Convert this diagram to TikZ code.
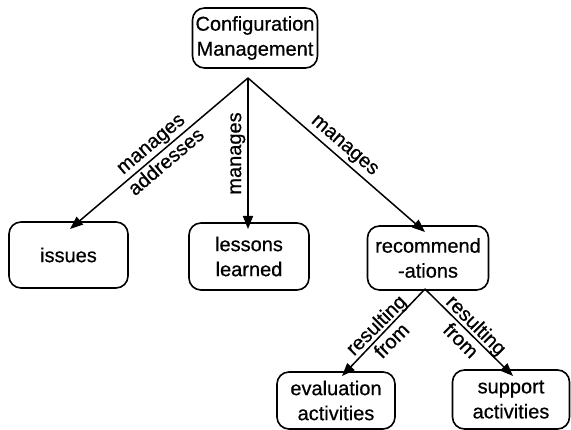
\documentclass[tikz,border=0pt]{standalone}
\usepackage{fontspec}
\setmainfont[FakeBold=0.6]{Liberation Sans}
\usetikzlibrary{arrows.meta}
\begin{document}
\begin{tikzpicture}[x=1pt,y=-1pt,
  box/.style={draw, line width=1.6pt, rounded corners=12pt, align=center,
    font=\fontsize{20}{25}\selectfont, inner sep=0pt},
  link/.style={line width=1.5pt, -{Triangle[length=13pt,width=10pt]}},
  lbl/.style={font=\fontsize{20}{22}\selectfont, align=center, inner sep=2pt}]
\useasboundingbox (0,0) rectangle (571,430);

% concept boxes
\node[box, minimum width=125pt, minimum height=60pt] (cm) at (255,38) {Configuration\\Management};
\node[box, minimum width=119pt, minimum height=66pt] (issues) at (68.5,255) {issues};
\node[box, minimum width=120pt, minimum height=67pt] (lessons) at (249,256.5) {lessons\\learned};
\node[box, minimum width=121pt, minimum height=64pt] (rec) at (428,258) {recommend\\-ations};
\node[box, minimum width=118pt, minimum height=57pt] (eval) at (336,400.5) {evaluation\\activities};
\node[box, minimum width=117pt, minimum height=59pt] (supp) at (511,399.5) {support\\activities};

% branching points and arrow ends
\coordinate (cmj) at (248,78);
\coordinate (recj) at (425,289);
\coordinate (issuesT) at (70,229);
\coordinate (lessonsT) at (248,229);
\coordinate (recT) at (425,232);
\coordinate (evalT) at (342,376);
\coordinate (suppT) at (513,376);

% relations
\draw[link] (cmj) -- node[lbl, rotate=40.3, font=\fontsize{20}{24}\selectfont] {manages\\addresses} (issuesT);
\draw[link] (cmj) -- node[lbl, rotate=90, anchor=south] {manages} (lessonsT);
\draw[link] (cmj) -- node[lbl, rotate=-40.8, anchor=south, inner sep=3pt] {manages} (recT);
\draw[link] (recj) -- node[lbl, rotate=45] {resulting\\from} (evalT);
\draw[link] (recj) -- node[lbl, rotate=-45] {resulting\\from} (suppT);
\end{tikzpicture}
\end{document}
